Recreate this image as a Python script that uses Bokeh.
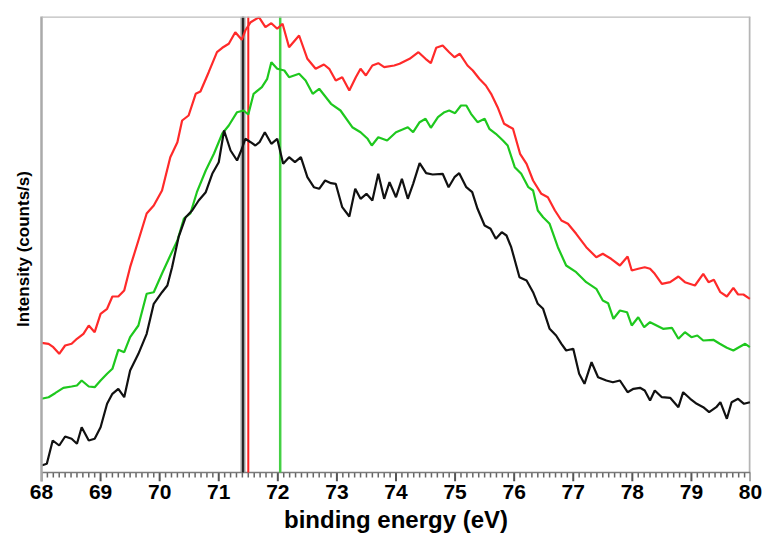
from bokeh.plotting import figure
from bokeh.models import Range1d, Span, FixedTicker
from bokeh.embed import file_html
from bokeh.resources import INLINE

# ---- data (intensity in arbitrary units) ----
red_e = [68.00, 68.12, 68.20, 68.30, 68.40, 68.51, 68.60, 68.71, 68.80, 68.90,
         69.00, 69.11, 69.20, 69.30, 69.40, 69.50, 69.64, 69.78, 69.90, 70.04,
         70.18, 70.30, 70.38, 70.49, 70.61, 70.69, 70.83, 70.97, 71.06, 71.17,
         71.28, 71.39, 71.45, 71.54, 71.68, 71.79, 71.89, 71.99, 72.08, 72.19,
         72.36, 72.50, 72.64, 72.78, 72.87, 72.98, 73.09, 73.21, 73.32, 73.40,
         73.49, 73.60, 73.70, 73.80, 73.97, 74.06, 74.23, 74.38, 74.50, 74.59,
         74.68, 74.79, 74.90, 74.99, 75.08, 75.21, 75.30, 75.41, 75.52, 75.61,
         75.72, 75.83, 75.98, 76.10, 76.21, 76.32, 76.46, 76.57, 76.69, 76.80,
         76.91, 77.05, 77.22, 77.39, 77.50, 77.64, 77.79, 77.92, 77.99, 78.10,
         78.21, 78.30, 78.38, 78.50, 78.64, 78.78, 78.89, 79.06, 79.20, 79.29,
         79.38, 79.49, 79.60, 79.71, 79.79, 79.88, 79.99]
red_i = [129.7, 128.7, 125.3, 118.7, 127.0, 128.7, 133.7, 138.7, 147.0, 140.3,
         158.7, 163.7, 176.0, 176.0, 182.0, 205.3, 232.0, 259.0, 267.0, 282.0,
         315.3, 330.3, 352.0, 357.0, 378.7, 381.0, 400.3, 420.3, 424.7, 428.7,
         440.3, 432.7, 442.0, 450.3, 455.3, 445.3, 449.3, 443.7, 448.7, 425.3,
         437.0, 413.7, 403.7, 408.0, 403.7, 392.0, 395.3, 382.0, 395.3, 403.7,
         397.0, 407.0, 409.3, 405.3, 407.0, 408.7, 413.7, 420.3, 413.7, 409.3,
         424.7, 427.0, 420.3, 415.3, 418.7, 407.0, 402.0, 393.7, 387.0, 378.7,
         365.3, 348.7, 343.7, 318.7, 308.7, 292.0, 278.7, 275.3, 262.0, 252.0,
         248.7, 238.7, 225.3, 215.3, 218.7, 213.7, 207.0, 216.0, 202.0, 203.7,
         205.3, 203.7, 198.7, 188.7, 190.3, 196.0, 190.3, 187.0, 198.7, 190.3,
         192.7, 180.3, 176.0, 184.7, 178.0, 178.0, 173.7]

green_e = [68.00, 68.12, 68.23, 68.37, 68.51, 68.60, 68.68, 68.80, 68.90, 69.00,
           69.11, 69.20, 69.30, 69.40, 69.50, 69.64, 69.78, 69.90, 70.04, 70.18,
           70.30, 70.41, 70.52, 70.63, 70.78, 70.92, 71.06, 71.17, 71.31, 71.42,
           71.50, 71.59, 71.73, 71.82, 71.89, 71.99, 72.11, 72.19, 72.36, 72.47,
           72.59, 72.70, 72.90, 73.06, 73.26, 73.40, 73.52, 73.59, 73.70, 73.85,
           74.00, 74.11, 74.20, 74.29, 74.40, 74.50, 74.59, 74.71, 74.82, 74.90,
           75.00, 75.10, 75.19, 75.27, 75.38, 75.50, 75.58, 75.69, 75.81, 75.89,
           76.01, 76.12, 76.24, 76.32, 76.40, 76.49, 76.60, 76.74, 76.88, 77.05,
           77.22, 77.39, 77.50, 77.59, 77.68, 77.79, 77.91, 77.99, 78.10, 78.20,
           78.30, 78.41, 78.52, 78.67, 78.78, 78.89, 79.00, 79.10, 79.20, 79.37,
           79.48, 79.60, 79.71, 79.79, 79.91, 79.99]
green_i = [73.7, 75.3, 79.3, 84.7, 86.0, 87.0, 92.0, 86.0, 85.3, 92.0,
           98.7, 103.7, 122.7, 120.3, 135.3, 147.0, 178.7, 180.3, 199.0, 217.0,
           232.0, 254.0, 259.0, 280.3, 302.0, 319.0, 339.0, 347.0, 360.3, 362.0,
           358.0, 378.7, 385.3, 393.7, 410.3, 403.7, 402.0, 395.3, 398.7, 392.0,
           378.7, 383.7, 368.7, 362.0, 345.3, 340.3, 333.7, 327.0, 335.3, 332.0,
           340.3, 343.0, 345.3, 340.3, 350.3, 353.7, 344.7, 355.3, 360.3, 362.0,
           359.3, 367.0, 367.0, 358.7, 350.3, 353.7, 343.7, 338.7, 332.0, 327.0,
           305.3, 298.7, 285.3, 282.0, 262.0, 255.3, 248.7, 225.3, 207.0, 200.3,
           190.3, 183.7, 172.0, 169.3, 153.7, 162.0, 160.3, 147.0, 155.3, 145.3,
           150.3, 147.0, 143.7, 144.7, 133.7, 140.3, 135.3, 137.0, 132.0, 132.7,
           128.7, 124.7, 122.0, 124.7, 128.7, 125.3]

black_e = [68.00, 68.09, 68.19, 68.30, 68.40, 68.51, 68.60, 68.68, 68.80, 68.90,
           69.00, 69.11, 69.20, 69.30, 69.40, 69.50, 69.64, 69.78, 69.90, 70.04,
           70.13, 70.21, 70.32, 70.44, 70.55, 70.66, 70.78, 70.89, 71.00, 71.09,
           71.20, 71.31, 71.38, 71.45, 71.54, 71.62, 71.69, 71.78, 71.89, 71.99,
           72.09, 72.19, 72.29, 72.39, 72.50, 72.61, 72.70, 72.80, 72.90, 72.98,
           73.09, 73.21, 73.31, 73.40, 73.50, 73.60, 73.70, 73.80, 73.89, 74.00,
           74.10, 74.20, 74.29, 74.40, 74.51, 74.62, 74.79, 74.89, 74.99, 75.07,
           75.19, 75.29, 75.38, 75.50, 75.60, 75.69, 75.79, 75.87, 75.95, 76.09,
           76.21, 76.32, 76.40, 76.49, 76.60, 76.71, 76.80, 76.88, 77.00, 77.10,
           77.19, 77.31, 77.42, 77.56, 77.67, 77.79, 77.92, 78.02, 78.13, 78.21,
           78.30, 78.38, 78.50, 78.64, 78.78, 78.86, 78.98, 79.09, 79.20, 79.30,
           79.42, 79.49, 79.60, 79.68, 79.79, 79.89, 79.99]
black_i = [7.0, 8.7, 32.0, 27.0, 36.0, 33.7, 28.7, 45.3, 32.0, 33.7,
           45.3, 68.7, 78.7, 83.7, 75.3, 102.0, 118.7, 138.7, 168.7, 180.3,
           187.0, 205.3, 235.3, 255.3, 262.0, 272.0, 280.3, 298.7, 310.3, 342.0,
           322.0, 312.0, 322.0, 333.7, 330.3, 327.0, 330.3, 340.3, 328.7, 333.7,
           308.7, 315.3, 310.3, 315.3, 295.3, 285.3, 283.7, 292.0, 289.3, 288.7,
           265.3, 256.0, 283.7, 273.7, 278.7, 272.0, 298.7, 273.7, 290.3, 275.3,
           293.7, 273.7, 288.7, 309.3, 299.3, 298.0, 298.7, 285.3, 295.3, 299.3,
           285.3, 280.3, 263.7, 247.0, 243.7, 233.7, 240.3, 237.0, 225.3, 195.3,
           192.0, 180.3, 168.7, 163.7, 143.7, 137.0, 128.7, 122.0, 123.7, 98.7,
           88.7, 110.3, 95.3, 92.0, 90.3, 92.0, 80.3, 83.7, 84.7, 82.0,
           72.0, 82.0, 75.3, 74.7, 65.3, 80.3, 73.7, 68.7, 65.3, 60.3,
           65.3, 70.3, 53.7, 70.3, 73.7, 68.7, 70.3]

# peak-position markers (eV)
marker_black = 71.41
marker_red = 71.50
marker_green = 72.04

# axis ticks
x_major = list(range(68, 81))
x_minor = [t / 10 for t in range(681, 800) if t % 10]

FONT = "Liberation Sans"
Y_TOP = 456
TICK_MAJOR = 9
TICK_MINOR = 5

p = figure(width=766, height=538, output_backend="svg", toolbar_location=None,
           x_range=Range1d(68, 80), y_range=Range1d(-TICK_MAJOR, Y_TOP),
           min_border_left=41, min_border_right=16, min_border_top=16,
           min_border_bottom=57)
p.background_fill_color = "white"
p.border_fill_color = "white"
p.outline_line_color = None
p.xgrid.visible = False
p.ygrid.visible = False

# frame: top and right borders
p.add_layout(Span(location=Y_TOP, dimension="width",
                  line_color="#bdbdbd", line_width=2.5))
p.segment(x0=[80], y0=[0], x1=[80], y1=[Y_TOP],
          line_color="#b5b5b5", line_width=3.5)

# ticks hanging below the axis line
p.segment(x0=x_major, y0=[0] * len(x_major), x1=x_major,
          y1=[-TICK_MAJOR] * len(x_major), line_color="#555555", line_width=2)
p.segment(x0=x_minor, y0=[0] * len(x_minor), x1=x_minor,
          y1=[-TICK_MINOR] * len(x_minor), line_color="#666666", line_width=1.5)
p.line([68, 80], [0, 0], line_color="#7a7a7a", line_width=1.5)

# vertical marker lines
p.segment(x0=[marker_black], y0=[0], x1=[marker_black], y1=[Y_TOP],
          line_color="#8c8c8c", line_width=5, line_alpha=0.85)
p.segment(x0=[marker_black], y0=[0], x1=[marker_black], y1=[Y_TOP],
          line_color="black", line_width=1.5)
p.segment(x0=[marker_red], y0=[0], x1=[marker_red], y1=[Y_TOP],
          line_color="#ff2020", line_width=2)
p.segment(x0=[marker_green], y0=[0], x1=[marker_green], y1=[Y_TOP],
          line_color="#44d044", line_width=2.5)

# spectra
p.line(red_e, red_i, line_color="#ff2a2a", line_width=2.2)
p.line(green_e, green_i, line_color="#1ec81e", line_width=2.2)
p.line(black_e, black_i, line_color="#111111", line_width=2.2)

# x axis: labels only (ticks drawn above)
xa = p.xaxis[0]
xa.ticker = FixedTicker(ticks=x_major)
xa.axis_line_color = None
xa.major_tick_line_color = None
xa.minor_tick_line_color = None
xa.major_tick_out = 0
xa.major_tick_in = 0
xa.minor_tick_out = 0
xa.minor_tick_in = 0
xa.major_label_text_font = FONT
xa.major_label_text_font_style = "bold"
xa.major_label_text_font_size = "21px"
xa.major_label_text_color = "black"
xa.major_label_standoff = 3
xa.axis_label = "binding energy (eV)"
xa.axis_label_text_font = FONT
xa.axis_label_text_font_style = "bold"
xa.axis_label_text_font_size = "24px"
xa.axis_label_text_color = "black"
xa.axis_label_standoff = 4

# y axis (line only)
ya = p.yaxis[0]
ya.ticker = FixedTicker(ticks=[])
ya.axis_line_color = "#aaaaaa"
ya.axis_line_width = 2.5
ya.major_tick_line_color = None
ya.minor_tick_line_color = None
ya.major_label_text_font_size = "0px"
ya.axis_label = "Intensity (counts/s)"
ya.axis_label_text_font = FONT
ya.axis_label_text_font_style = "bold"
ya.axis_label_text_font_size = "17px"
ya.axis_label_text_color = "black"
ya.axis_label_standoff = 9

open("out.html", "w").write(file_html(p, INLINE))
